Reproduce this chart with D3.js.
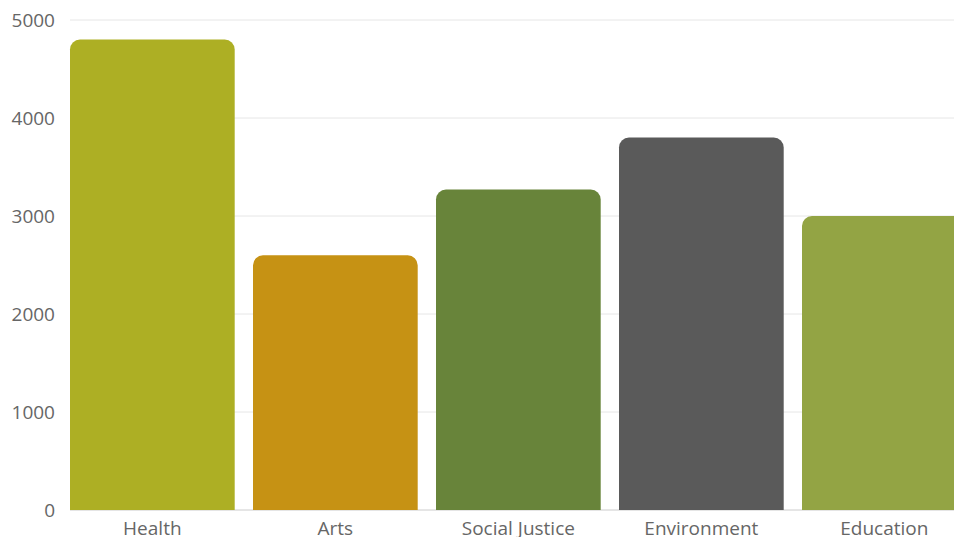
<!DOCTYPE html>
<html>
<head>
<meta charset="utf-8">
<script src="https://cdn.jsdelivr.net/npm/d3@7"></script>
<style>
  html, body { margin: 0; padding: 0; background: #fff; }
  svg { display: block; font-family: "Open Sans", sans-serif; }
</style>
</head>
<body>
<div id="chart"></div>
<script>
var categories = ['Health', 'Arts', 'Social Justice', 'Environment', 'Education'];
var values = [4800, 2600, 3270, 3800, 3000];
var colors = ['#adaf24', '#c69214', '#68843a', '#5a5a5a', '#93a444'];
var yTicks = [0, 1000, 2000, 3000, 4000, 5000];

var width = 954, height = 537;
var margin = {top: 20, right: 0, bottom: 27, left: 70};
var radius = 10;

var svg = d3.select('#chart').append('svg')
    .attr('width', width)
    .attr('height', height);

var x = d3.scaleBand()
    .domain(categories)
    .range([margin.left, margin.left + 183 * 4.9])
    .paddingInner(0.1)
    .paddingOuter(0);

var y = d3.scaleLinear()
    .domain([0, 5000])
    .range([height - margin.bottom, margin.top]);

// gridlines
svg.append('g').selectAll('line')
    .data(yTicks.filter(d => d > 0))
    .enter().append('line')
    .attr('x1', margin.left)
    .attr('x2', width)
    .attr('y1', d => y(d))
    .attr('y2', d => y(d))
    .attr('stroke', '#e6e6e6')
    .attr('stroke-width', 1);

// baseline
svg.append('line')
    .attr('x1', margin.left)
    .attr('x2', width)
    .attr('y1', y(0))
    .attr('y2', y(0))
    .attr('stroke', '#cccccc')
    .attr('stroke-width', 1);

// bars with rounded top corners
function barPath(x0, y0, w, h, r){
    return 'M' + x0 + ',' + (y0 + h) +
        'V' + (y0 + r) +
        'A' + r + ',' + r + ' 0 0 1 ' + (x0 + r) + ',' + y0 +
        'H' + (x0 + w - r) +
        'A' + r + ',' + r + ' 0 0 1 ' + (x0 + w) + ',' + (y0 + r) +
        'V' + (y0 + h) + 'Z';
}

svg.append('g').selectAll('path')
    .data(categories)
    .enter().append('path')
    .attr('fill', (d, i) => colors[i])
    .attr('d', (d, i) => barPath(x(d), y(values[i]), x.bandwidth(), y(0) - y(values[i]), radius));

// y labels
svg.append('g').selectAll('text')
    .data(yTicks)
    .enter().append('text')
    .attr('x', 55)
    .attr('y', d => y(d))
    .attr('dy', '0.36em')
    .attr('text-anchor', 'end')
    .attr('fill', '#666666')
    .attr('font-size', 19)
    .text(d => d);

// x labels
svg.append('g').selectAll('text')
    .data(categories)
    .enter().append('text')
    .attr('x', d => x(d) + x.bandwidth() / 2)
    .attr('y', 535)
    .attr('text-anchor', 'middle')
    .attr('fill', '#666666')
    .attr('font-size', 19)
    .text(d => d);
</script>
</body>
</html>
